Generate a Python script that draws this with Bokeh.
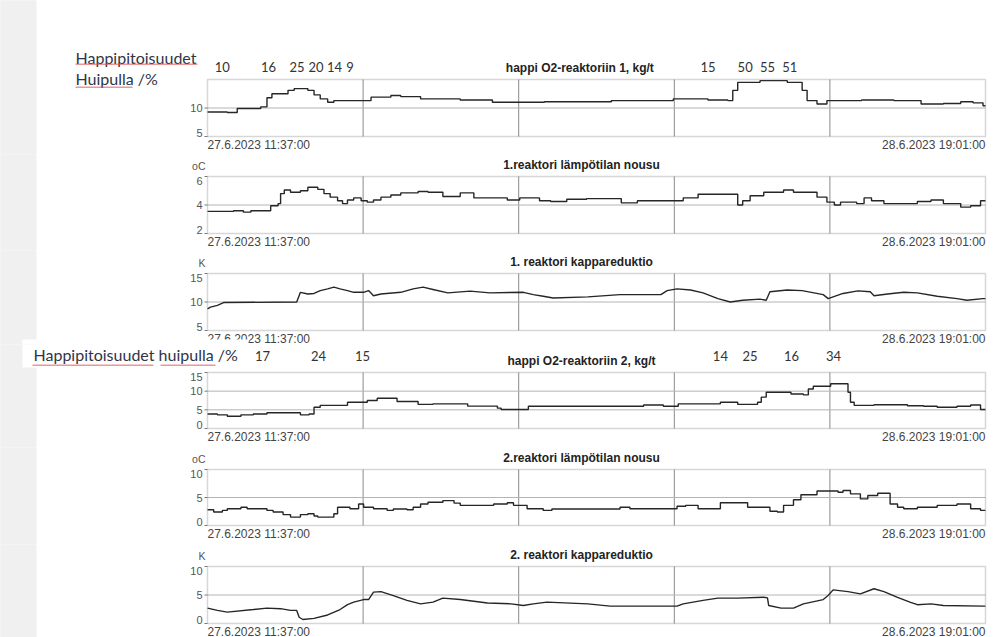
from bokeh.plotting import figure
from bokeh.models import Range1d, Label, BoxAnnotation
from bokeh.core.properties import value
from bokeh.layouts import column
from bokeh.embed import file_html
from bokeh.resources import INLINE

# ---------------- data ----------------
START_TEXT = "27.6.2023 11:37:00"
END_TEXT = "28.6.2023 19:01:00"
T_END = 31.4  # hours between the two time stamps

titles = ["happi O2-reaktoriin 1,  kg/t", "1.reaktori lämpötilan nousu", "1. reaktori kappareduktio",
          "happi O2-reaktoriin 2, kg/t", "2.reaktori lämpötilan nousu", "2. reaktori kappareduktio"]
unit_labels = ["", "oC", "K", "", "oC", "K"]
y_limits = [(5, 15), (2, 6), (5, 15), (0, 15), (0, 10), (0, 10)]
y_tick_values = [[5, 10], [2, 4, 6], [5, 10, 15], [0, 5, 10, 15], [0, 5, 10], [0, 5, 10]]

# reactor 1 oxygen, kg/t
t1 = [0, 0.8, 1.2, 2.15, 2.4, 2.6, 3.0, 3.25, 3.5, 4.05, 4.3, 4.55, 4.85, 5.1, 6.3, 6.6, 7.4, 7.8, 8.6, 9.7,
      10.2, 11.5, 13.6, 16.3, 18.8, 20.2, 21.0, 21.2, 21.4, 22.3, 23.4, 24.0, 24.2, 24.6, 25.0, 26.4, 27.7,
      28.8, 29.7, 30.4, 30.9, 31.3]
v1 = [9.3, 9.2, 9.9, 10.2, 11.8, 12.5, 12.5, 13.1, 13.4, 13.1, 12.3, 11.6, 11.0, 11.3, 11.3, 11.9, 12.2, 12.0,
      11.6, 11.6, 11.4, 11.0, 11.1, 11.3, 11.6, 11.4, 11.3, 13.1, 14.5, 14.8, 14.5, 13.1, 11.3, 10.7, 11.3,
      11.4, 11.3, 10.7, 10.8, 11.1, 10.9, 10.4]
# reactor 1 temperature rise, oC
t2 = [0, 1.05, 1.45, 1.75, 2.55, 2.85, 2.95, 3.1, 3.35, 3.75, 4.05, 4.45, 4.7, 4.95, 5.25, 5.45, 5.65, 5.9,
      6.2, 6.45, 6.7, 7.0, 7.4, 7.8, 8.5, 8.9, 9.5, 10.2, 10.75, 12.1, 12.6, 13.4, 13.85, 14.5, 15.3, 16.7,
      17.35, 19.2, 19.8, 21.4, 21.6, 21.9, 22.45, 23.25, 23.65, 24.6, 25.0, 25.3, 25.55, 26.2, 26.5, 26.8,
      27.3, 28.65, 29.2, 29.7, 30.4, 30.8, 31.2]
v2 = [3.55, 3.6, 3.5, 3.6, 3.95, 4.1, 4.8, 5.05, 4.9, 5.0, 5.25, 5.1, 4.8, 4.55, 4.3, 4.1, 4.35, 4.5, 4.3,
      4.2, 4.35, 4.55, 4.7, 4.85, 4.95, 4.9, 4.6, 4.85, 4.5, 4.35, 4.5, 4.3, 4.25, 4.4, 4.45, 4.15, 4.3, 4.5,
      4.75, 4.0, 4.3, 4.65, 4.9, 5.05, 4.9, 4.55, 4.2, 4.0, 4.2, 4.1, 4.5, 4.3, 4.1, 4.25, 4.35, 4.1, 3.85,
      3.95, 4.3]
# reactor 1 kappa reduction
t3 = [0, 0.12, 0.4, 0.65, 3.6, 3.75, 4.05, 4.3, 4.55, 4.85, 5.1, 5.35, 5.65, 5.9, 6.3, 6.5, 6.7, 7.0, 7.8,
      8.3, 8.7, 9.1, 9.7, 10.6, 11.4, 12.75, 13.15, 13.55, 13.95, 15.35, 16.65, 18.3, 18.55, 18.95, 19.5,
      20.0, 20.6, 21.1, 21.6, 22.3, 22.55, 22.7, 23.4, 24.0, 24.85, 25.05, 25.25, 25.65, 26.25, 26.75, 26.9,
      27.45, 28.1, 28.65, 29.45, 30.25, 30.65, 31.3]
v3 = [8.8, 9.1, 9.4, 9.9, 10.0, 11.7, 11.4, 11.5, 12.0, 12.3, 12.6, 12.3, 12.0, 11.7, 11.7, 12.0, 11.1, 11.4,
      11.7, 12.3, 12.6, 12.2, 11.6, 11.9, 11.6, 11.7, 11.3, 11.0, 10.7, 10.9, 11.3, 11.3, 12.0, 12.3, 12.1,
      11.6, 10.6, 10.0, 10.3, 10.5, 10.3, 11.8, 12.1, 12.0, 11.3, 10.6, 10.9, 11.5, 11.95, 11.8, 11.1, 11.4,
      11.7, 11.6, 11.0, 10.6, 10.3, 10.6]
# reactor 2 oxygen, kg/t
t4 = [0, 0.4, 0.8, 1.35, 1.85, 2.4, 3.75, 4.1, 4.3, 4.55, 5.65, 6.45, 6.85, 7.65, 8.5, 9.1, 10.5, 11.7, 11.85,
      12.95, 17.6, 18.4, 19.0, 20.7, 21.4, 22.2, 22.35, 22.55, 23.55, 24.05, 24.25, 24.45, 25.15, 25.85,
      25.95, 26.1, 26.25, 26.9, 28.25, 28.9, 29.45, 30.25, 30.8, 31.2]
v4 = [3.9, 3.65, 3.3, 3.65, 3.9, 4.2, 3.65, 3.9, 5.7, 6.2, 7.05, 7.5, 8.1, 7.25, 6.45, 6.6, 6.0, 5.45, 5.1,
      5.95, 6.3, 5.95, 6.6, 7.05, 6.45, 7.05, 8.4, 9.7, 9.25, 9.0, 10.6, 11.3, 12.0, 9.7, 7.05, 6.2, 6.2,
      6.35, 6.1, 5.95, 5.7, 5.95, 6.3, 5.1]
# reactor 2 temperature rise, oC
t5 = [0, 0.25, 0.6, 0.8, 1.35, 1.6, 2.4, 2.65, 3.05, 3.35, 3.75, 4.05, 4.3, 4.45, 5.1, 5.25, 5.75, 6.1, 6.3,
      6.7, 7.25, 7.5, 8.05, 8.3, 8.6, 8.9, 9.5, 9.95, 10.2, 11.55, 12.1, 12.35, 12.9, 13.55, 13.9, 16.65,
      17.05, 18.95, 19.3, 19.8, 20.7, 21.8, 22.7, 23.0, 23.25, 23.65, 23.95, 24.6, 25.45, 25.65, 25.95,
      26.35, 26.65, 27.05, 27.55, 27.85, 28.1, 28.65, 29.45, 30.25, 30.8, 31.2]
v5 = [2.8, 2.4, 2.7, 3.0, 3.25, 3.0, 2.7, 2.4, 1.95, 1.5, 1.95, 2.1, 1.7, 1.5, 2.1, 3.25, 3.0, 3.85, 3.25,
      3.0, 2.7, 2.95, 2.8, 3.25, 3.85, 4.15, 4.45, 4.0, 3.6, 3.85, 4.05, 3.6, 3.0, 2.7, 2.95, 3.25, 3.0,
      3.45, 3.6, 3.0, 4.05, 3.25, 2.55, 2.4, 3.6, 4.6, 5.5, 6.15, 5.95, 6.25, 5.65, 4.75, 5.35, 5.75, 3.85,
      3.25, 3.0, 3.25, 3.6, 3.85, 3.0, 2.7]
# reactor 2 kappa reduction
t6 = [0, 0.4, 0.8, 1.85, 2.4, 2.95, 3.35, 3.6, 3.7, 3.85, 4.3, 4.85, 5.35, 5.65, 5.9, 6.3, 6.5, 6.7, 7.0,
      7.5, 8.05, 8.6, 9.1, 9.5, 10.2, 11.3, 12.25, 12.75, 13.15, 13.7, 15.35, 16.25, 18.95, 19.2, 20.0, 20.6,
      21.4, 22.45, 22.6, 22.65, 23.15, 23.65, 24.05, 24.85, 25.05, 25.25, 25.85, 26.35, 26.9, 27.3, 27.85,
      28.35, 28.65, 29.2, 29.7, 31.3]
v6 = [2.7, 2.3, 2.0, 2.45, 2.7, 2.6, 2.3, 2.3, 1.1, 0.7, 0.9, 1.5, 2.45, 3.3, 3.75, 4.2, 4.2, 5.5, 5.6, 4.9,
      4.05, 3.45, 3.75, 4.45, 4.2, 3.6, 3.45, 3.15, 3.45, 3.75, 3.45, 3.05, 3.05, 3.45, 4.05, 4.45, 4.45,
      4.6, 4.5, 3.15, 2.7, 2.7, 3.45, 4.2, 4.9, 5.9, 5.6, 5.2, 6.1, 5.6, 4.6, 3.75, 3.3, 3.45, 3.15, 3.05]

# hand-written peak oxygen contents (%) above the oxygen trends
peak_text_1 = ["10", "16", "25", "20", "14", "9", "15", "50", "55", "51"]
peak_time_1 = [0.6, 2.46, 3.61, 4.38, 5.13, 5.75, 20.2, 21.7, 22.6, 23.5]
peak_text_2 = ["17", "24", "15", "14", "25", "16", "34"]
peak_time_2 = [2.22, 4.48, 6.26, 20.7, 21.9, 23.57, 25.27]
note_1 = ["Happipitoisuudet", "Huipulla /%"]
note_2 = "Happipitoisuudet huipulla /%"

series = [(t1, v1, "step"), (t2, v2, "step"), (t3, v3, "line"),
          (t4, v4, "step"), (t5, v5, "step"), (t6, v6, "line")]
for ts, vs, _ in series:
    assert len(ts) == len(vs)

# ---------------- layout ----------------
W = 993
FRAME_L = 207
FRAME_R = 8
FRAME_W = W - FRAME_L - FRAME_R
# (figure height, panel top inside figure, panel height)
geom = [(154, 79, 57), (96, 22, 57), (94, 23, 57), (103, 28, 56), (97, 22, 56), (93, 22, 57)]

LINE_COL = "#262626"
FONT = "Liberation Sans"
NOTE_FONT = "Lato"
NOTE_COL = "#2f3547"
STRIP_COL = "#f0f0f0"
N_DIV = 5


def xd(px):
    return (px - FRAME_L) / FRAME_W * T_END


def lab(p, x, y, text, size, align="left", base="middle", color="#333333", font=FONT, style="normal"):
    p.add_layout(Label(x=x, y=y, text=text, text_font=font, text_font_size=size, text_color=color,
                       text_align=align, text_baseline=base, text_font_style=style))


def box(p, l, r, t, b, color, alpha=1.0):
    p.add_layout(BoxAnnotation(left=l, right=r, top=t, bottom=b, fill_color=color, fill_alpha=alpha,
                               line_color=None))


figs = []
offset = 0
for i, ((h, top, fh), (lo, hi)) in enumerate(zip(geom, y_limits)):

    def yd(py, lo=lo, hi=hi, top=top, fh=fh):
        return lo + (top + fh - py) / fh * (hi - lo)

    def yc(pc, off=offset, f=yd):  # position given in page pixels
        return f(pc - off)

    p = figure(width=W, height=h, x_range=Range1d(xd(0), xd(W)), y_range=Range1d(yd(h), yd(0)),
               x_axis_type=None, y_axis_type=None, output_backend="svg", toolbar_location=None,
               min_border=0)
    p.title.visible = False
    p.background_fill_color = "white"
    p.border_fill_color = "white"
    p.outline_line_color = None
    p.xgrid.visible = False
    p.ygrid.visible = False

    ticks = y_tick_values[i]
    # grid lines
    gx = [T_END * k / N_DIV for k in range(1, N_DIV)]
    p.segment(x0=gx, y0=[lo] * len(gx), x1=gx, y1=[hi] * len(gx), line_color="#8a8a8a", line_width=1)
    inner = [t for t in ticks if lo < t < hi]
    p.segment(x0=[0] * len(inner), y0=inner, x1=[T_END] * len(inner), y1=inner,
              line_color="#b4b4b4", line_width=1)
    # y ticks and tick labels
    p.segment(x0=[xd(204)] * len(ticks), y0=ticks, x1=[0] * len(ticks), y1=ticks,
              line_color="#777777", line_width=1)
    offs = [-4 if t == lo else (4 if t == hi else 0) for t in ticks]
    p.text(x=[xd(202)] * len(ticks), y=ticks, text=[str(t) for t in ticks], y_offset=offs,
           text_font=value(FONT), text_font_size="11px", text_color="#555555",
           text_align="right", text_baseline="middle")

    ts, vs, kind = series[i]
    xs = list(ts) + [T_END]
    ys = list(vs) + [vs[-1]]
    if kind == "step":
        p.step(xs, ys, mode="after", line_color=LINE_COL, line_width=1.4)
    else:
        p.line(xs, ys, line_color=LINE_COL, line_width=1.4)

    # panel frame
    p.add_layout(BoxAnnotation(left=0, right=T_END, bottom=lo, top=hi, fill_alpha=0,
                               line_color="#7a7a7a", line_width=1.5))

    # grey page margin on the left
    box(p, xd(-2), xd(36), yd(-3), yd(h + 3), STRIP_COL)

    lab(p, xd(581), yd(top - 12), titles[i], "12px", align="center", color="#222222", style="bold")
    if unit_labels[i]:
        lab(p, xd(205), yd(top - 11), unit_labels[i], "10.5px", align="right", color="#555555")
    lab(p, 0, yd(top + fh + 8), START_TEXT, "12px", color="#444444")
    lab(p, T_END, yd(top + fh + 8), END_TEXT, "12px", align="right", color="#444444")

    if i == 0:
        lab(p, xd(75), yc(57), note_1[0], "16px", color=NOTE_COL, font=NOTE_FONT)
        lab(p, xd(75), yc(78), note_1[1], "16px", color=NOTE_COL, font=NOTE_FONT)
        box(p, xd(75), xd(197), yc(63), yc(64.5), "#e05050", 0.6)
        box(p, xd(75), xd(132), yc(86), yc(87.5), "#e05050", 0.6)
        for tx, tt in zip(peak_text_1, peak_time_1):
            lab(p, tt, yc(66.5), tx, "13px", align="center", color="#333333", font=NOTE_FONT)
    if i == 2:
        box(p, xd(22), xd(248), yc(339), yc(348), "white")
    if i == 3:
        box(p, xd(22), xd(248), yc(340), yc(367), "white")
        lab(p, xd(33), yc(353.5), note_2, "16px", color=NOTE_COL, font=NOTE_FONT)
        box(p, xd(32), xd(153), yc(364), yc(365.5), "#e05050", 0.6)
        box(p, xd(160), xd(215), yc(364), yc(365.5), "#e05050", 0.6)
        for tx, tt in zip(peak_text_2, peak_time_2):
            lab(p, tt, yc(355), tx, "13px", align="center", color="#333333", font=NOTE_FONT)
    figs.append(p)
    offset += h

layout = column(*figs, spacing=0,
                styles={"background": "linear-gradient(to right, #f0f0f0 36px, #ffffff 36px)"})
open("out.html", "w").write(file_html(layout, INLINE))
